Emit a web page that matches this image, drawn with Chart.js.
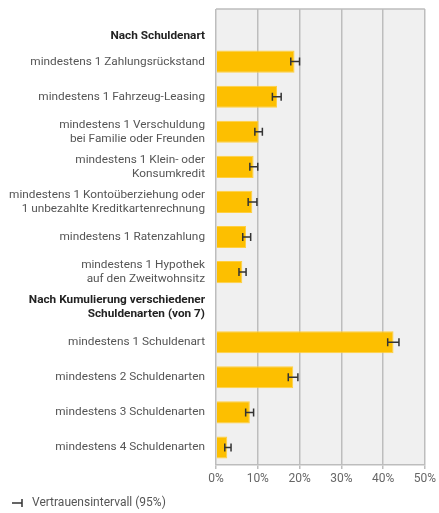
<!DOCTYPE html>
<html lang="de">
<head>
    <meta charset="UTF-8">
    <title>Verschuldung nach Schuldenart</title>
    <script src="https://cdn.jsdelivr.net/npm/chart.js@4/dist/chart.umd.min.js"></script>
    <style>
        body { margin: 0; background: #fff; }
        #wrap { position: relative; width: 439px; height: 513px; }
    </style>
</head>
<body>
    <div id="wrap">
        <canvas id="debtChart"></canvas>
    </div>

    <script>
        // header rows have null values
        const labels = [
            ["", "Nach Schuldenart"],
            "mindestens 1 Zahlungsrückstand",
            "mindestens 1 Fahrzeug-Leasing",
            ["mindestens 1 Verschuldung", "bei Familie oder Freunden"],
            ["mindestens 1 Klein- oder", "Konsumkredit"],
            ["mindestens 1 Kontoüberziehung oder", "1 unbezahlte Kreditkartenrechnung"],
            "mindestens 1 Ratenzahlung",
            ["mindestens 1 Hypothek", "auf den Zweitwohnsitz"],
            ["Nach Kumulierung verschiedener", "Schuldenarten (von 7)"],
            "mindestens 1 Schuldenart",
            "mindestens 2 Schuldenarten",
            "mindestens 3 Schuldenarten",
            "mindestens 4 Schuldenarten"
        ];
        const headerRows = [0, 8];
        const values  = [null, 18.8, 14.6, 10.2, 9.0, 8.7, 7.2, 6.3, null, 42.5, 18.5, 8.1, 2.7];
        const ciLow   = [null, 17.9, 13.5, 9.3, 8.1, 7.7, 6.4, 5.5, null, 41.1, 17.3, 7.1, 2.1];
        const ciHigh  = [null, 20.0, 15.6, 11.1, 10.0, 9.8, 8.3, 7.2, null, 43.8, 19.6, 9.0, 3.6];
        const xTicks  = [0, 10, 20, 30, 40, 50];

        const plotFrame = {
            id: 'plotFrame',
            beforeDraw(chart) {
                const a = chart.chartArea, ctx = chart.ctx;
                ctx.save();
                ctx.fillStyle = '#f0f0f0';
                ctx.fillRect(a.left, a.top, a.right - a.left, a.bottom - a.top);
                ctx.restore();
            },
            afterDatasetsDraw(chart) {
                const a = chart.chartArea, ctx = chart.ctx;
                const x = chart.scales.x, y = chart.scales.y;
                ctx.save();
                // top border
                ctx.strokeStyle = '#bdbdbd';
                ctx.lineWidth = 1.5;
                ctx.beginPath();
                ctx.moveTo(a.left, a.top);
                ctx.lineTo(a.right, a.top);
                ctx.stroke();
                // error bars
                ctx.strokeStyle = '#333';
                ctx.lineWidth = 1.5;
                values.forEach((v, i) => {
                    if (v === null) return;
                    const yc = y.getPixelForValue(i);
                    const x0 = x.getPixelForValue(ciLow[i]);
                    const x1 = x.getPixelForValue(ciHigh[i]);
                    ctx.beginPath();
                    ctx.moveTo(x0, yc); ctx.lineTo(x1, yc);
                    ctx.moveTo(x0, yc - 4); ctx.lineTo(x0, yc + 4);
                    ctx.moveTo(x1, yc - 4); ctx.lineTo(x1, yc + 4);
                    ctx.stroke();
                });
                // legend
                const ly = 503;
                ctx.beginPath();
                ctx.moveTo(12, ly); ctx.lineTo(22, ly);
                ctx.moveTo(22, ly - 4); ctx.lineTo(22, ly + 4);
                ctx.stroke();
                ctx.fillStyle = '#555';
                ctx.font = '12px Roboto';
                ctx.textBaseline = 'middle';
                ctx.fillText('Vertrauensintervall (95%)', 32, ly);
                ctx.restore();
            }
        };

        new Chart('debtChart', {
            type: 'bar',
            data: {
                labels: labels,
                datasets: [{
                    data: values,
                    backgroundColor: '#fdbf00',
                    borderColor: '#ffcf40',
                    borderWidth: 1,
                    categoryPercentage: 1,
                    barPercentage: 0.63
                }]
            },
            options: {
                indexAxis: 'y',
                responsive: true,
                maintainAspectRatio: false,
                animation: false,
                layout: { padding: { top: 9, right: 4, bottom: 22, left: 0 } },
                plugins: { legend: { display: false }, tooltip: { enabled: false } },
                scales: {
                    x: {
                        min: 0,
                        max: 50,
                        afterBuildTicks: (s) => { s.ticks = xTicks.map(v => ({ value: v })); },
                        afterFit: (s) => { s.height = 26; },
                        grid: { color: '#bdbdbd', lineWidth: 1.5, tickLength: 4 },
                        border: { color: '#bdbdbd', width: 1.5 },
                        ticks: {
                            callback: (v) => v + '%',
                            color: '#666',
                            padding: 3,
                            font: { family: 'Roboto', size: 12 }
                        }
                    },
                    y: {
                        afterFit: (s) => { s.width = 216; s.paddingTop = 0; s.paddingBottom = 0; },
                        grid: { display: false, drawTicks: false, tickLength: 0 },
                        border: { display: false },
                        ticks: {
                            padding: 11,
                            autoSkip: false,
                            color: (c) => headerRows.includes(c.index) ? '#222' : '#555',
                            font: (c) => {
                                if (c.index === 0) return { family: 'Roboto', size: 11.8, weight: 'bold', lineHeight: 1.6 };
                                if (c.index === 8) return { family: 'Roboto', size: 11.8, weight: 'bold', lineHeight: 1.25 };
                                return { family: 'Roboto', size: 11.8, lineHeight: 1.2 };
                            }
                        }
                    }
                }
            },
            plugins: [plotFrame]
        });
    </script>
</body>
</html>
